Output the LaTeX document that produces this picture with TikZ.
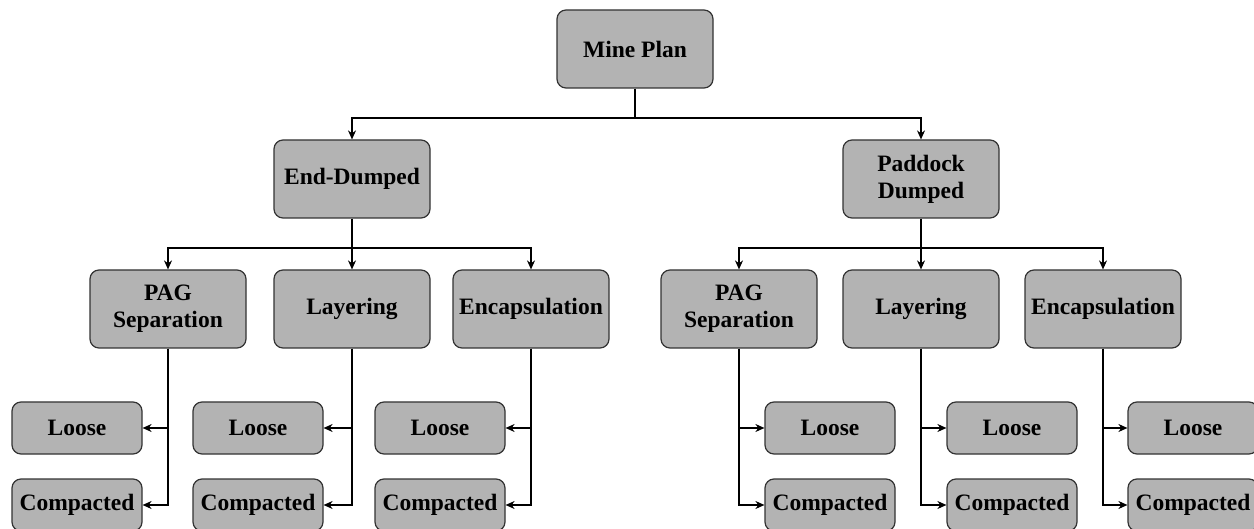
\documentclass[tikz,border=0pt]{standalone}
\usepackage{fontspec}
\setmainfont{Liberation Serif}
\usetikzlibrary{arrows.meta}
\definecolor{boxfill}{HTML}{B3B3B3}
\definecolor{boxline}{HTML}{333333}
\tikzset{
  box/.style={draw=boxline, fill=boxfill, line width=1.2pt, rounded corners=9pt,
    minimum width=156pt, minimum height=78pt, align=center, inner sep=2pt,
    font=\fontsize{23.5}{27}\selectfont\bfseries},
  leaf/.style={box, minimum width=130pt, minimum height=52pt},
  conn/.style={draw=black, line width=1.1pt},
  arr/.style={conn, -{Stealth[length=9pt,width=8pt]}}
}
\begin{document}
\begin{tikzpicture}[x=1pt,y=-1pt]
\useasboundingbox (0,0) rectangle (1254,529);
\clip (0,0) rectangle (1254,529);
% level 0
\node[box] (mp) at (635,49) {Mine Plan};
% level 1
\node[box] (ed) at (352,179) {End-Dumped};
\node[box] (pd) at (921,179) {Paddock\\Dumped};
% level 2
\node[box] (lpag) at (168,309) {PAG\\Separation};
\node[box] (llay) at (352,309) {Layering};
\node[box] (lenc) at (531,309) {Encapsulation};
\node[box] (rpag) at (739,309) {PAG\\Separation};
\node[box] (rlay) at (921,309) {Layering};
\node[box] (renc) at (1103,309) {Encapsulation};
% level 3 left
\node[leaf] (l1l) at (77,428) {Loose};
\node[leaf] (l1c) at (77,505) {Compacted};
\node[leaf] (l2l) at (258,428) {Loose};
\node[leaf] (l2c) at (258,505) {Compacted};
\node[leaf] (l3l) at (440,428) {Loose};
\node[leaf] (l3c) at (440,505) {Compacted};
% level 3 right
\node[leaf] (r1l) at (830,428) {Loose};
\node[leaf] (r1c) at (830,505) {Compacted};
\node[leaf] (r2l) at (1012,428) {Loose};
\node[leaf] (r2c) at (1012,505) {Compacted};
\node[leaf] (r3l) at (1193,428) {Loose};
\node[leaf] (r3c) at (1193,505) {Compacted};
% bus coordinates
\coordinate (b0) at (635,118);
\coordinate (b1) at (352,248);
\coordinate (b2) at (921,248);
% connectors level 0 -> 1
\draw[conn] (mp.south) -- (b0);
\draw[arr] (b0) -| (ed.north);
\draw[arr] (b0) -| (pd.north);
% level 1 -> 2
\draw[conn] (ed.south) -- (b1);
\draw[arr] (b1) -| (lpag.north);
\draw[arr] (b1) -- (llay.north);
\draw[arr] (b1) -| (lenc.north);
\draw[conn] (pd.south) -- (b2);
\draw[arr] (b2) -| (rpag.north);
\draw[arr] (b2) -- (rlay.north);
\draw[arr] (b2) -| (renc.north);
% level 2 -> 3 (left side: arrows into east sides)
\foreach \p/\a/\b in {lpag/l1l/l1c, llay/l2l/l2c, lenc/l3l/l3c}{
  \draw[arr] (\p.south) |- (\a.east);
  \draw[arr] (\p.south) |- (\b.east);
}
% level 2 -> 3 (right side: arrows into west sides)
\foreach \p/\a/\b in {rpag/r1l/r1c, rlay/r2l/r2c, renc/r3l/r3c}{
  \draw[arr] (\p.south) |- (\a.west);
  \draw[arr] (\p.south) |- (\b.west);
}
\end{tikzpicture}
\end{document}
